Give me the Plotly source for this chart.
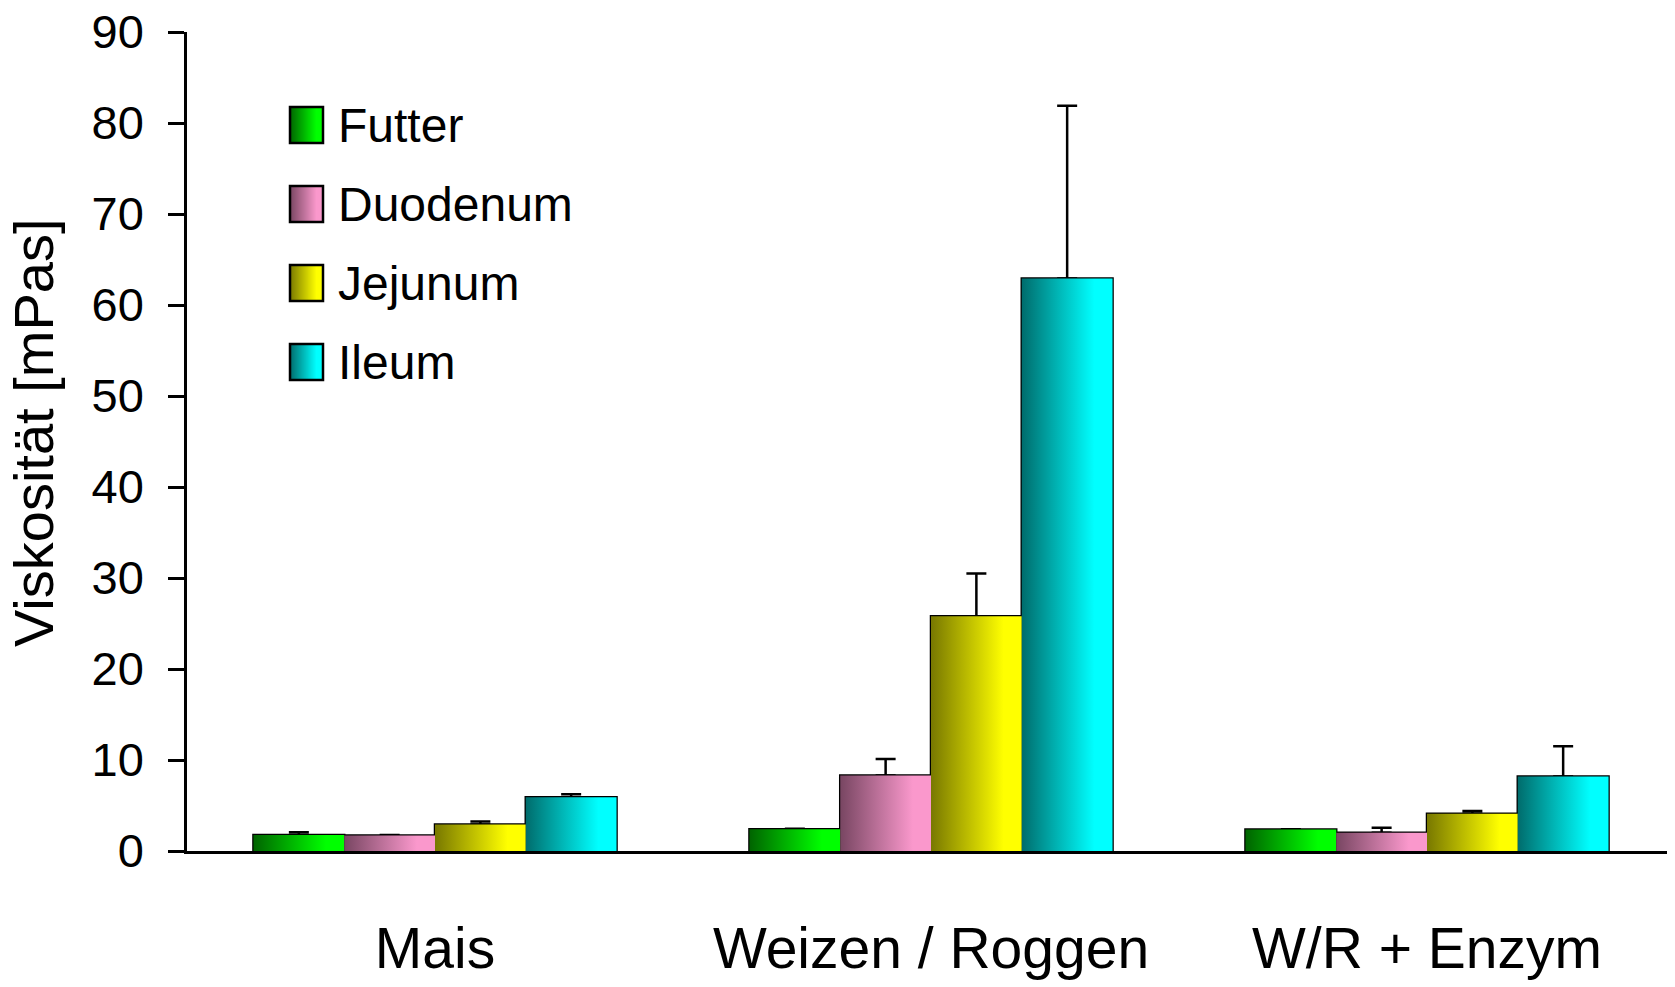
import plotly.graph_objects as go

# Daten (Viskosität in mPas)
categories = ["Mais", "Weizen / Roggen", "W/R + Enzym"]
series_names = ["Futter", "Duodenum", "Jejunum", "Ileum"]

futter = [1.75, 2.4, 2.35]
duodenum = [1.7, 8.3, 2.0]
jejunum = [2.9, 25.8, 4.1]
ileum = [5.9, 62.9, 8.2]

futter_err = [0.3, 0.05, 0.05]
duodenum_err = [0.05, 1.8, 0.55]
jejunum_err = [0.35, 4.7, 0.3]
ileum_err = [0.35, 19.0, 3.3]

values = [futter, duodenum, jejunum, ileum]
errors = [futter_err, duodenum_err, jejunum_err, ileum_err]

# Farbverlauf: links dunkel -> rechts hell
dark = [(0, 100, 0), (120, 70, 98), (120, 120, 0), (0, 108, 108)]
bright = [(0, 255, 0), (250, 152, 204), (255, 255, 0), (0, 255, 255)]

def rgb(c):
    return "rgb(%d,%d,%d)" % tuple(c)

FONT = "Liberation Sans, Arial, sans-serif"
bar_w = 0.183
x_pos = list(range(len(categories)))

fig = go.Figure()

# Verlaufsflächen der Balken
for i in range(4):
    off = -2 * bar_w + i * bar_w
    for j, x in enumerate(x_pos):
        x0, x1 = x + off, x + off + bar_w
        v = values[i][j]
        fig.add_trace(go.Scatter(
            x=[x0, x0, x1, x1, x0], y=[0, v, v, 0, 0],
            mode="lines", fill="toself",
            fillgradient=dict(type="horizontal",
                              colorscale=[[0, rgb(dark[i])], [0.8, rgb(bright[i])], [1, rgb(bright[i])]]),
            line=dict(width=0), hoverinfo="skip", showlegend=False
        ))

# Umrisse + Fehlerbalken
for i in range(4):
    fig.add_trace(go.Bar(
        x=x_pos, y=values[i], name=series_names[i],
        width=bar_w, offset=-2 * bar_w + i * bar_w,
        marker=dict(color="rgba(0,0,0,0)", line=dict(color="black", width=2.5)),
        error_y=dict(type="data", array=errors[i], arrayminus=[0] * 3, symmetric=False,
                     color="black", thickness=2.5, width=10),
        showlegend=False
    ))

# Seitenrand des Browsers (8px) ausgleichen
PAGE = 8
W, H = 1675 - PAGE, 987 - PAGE
ml, mr, mt, mb = 187 - PAGE, 0, 32 - PAGE, 136
pw, ph = W - ml - mr, H - mt - mb

def px_to_paper(px, py):
    return (px - PAGE - ml) / pw, 1 - (py - PAGE - mt) / ph

# Legende von Hand (große Symbole)
shapes = []
annotations = []
for i, name in enumerate(series_names):
    cy = 125 + i * 79
    sx0, sx1 = 290, 323
    sy0, sy1 = cy - 18, cy + 18
    n = 33
    step = (sx1 - sx0) / n
    for k in range(n):
        t = min((k + 0.5) / n / 0.8, 1)
        col = rgb(round(a + (b - a) * t) for a, b in zip(dark[i], bright[i]))
        a0, b0 = px_to_paper(sx0 + step * k, sy1)
        a1, b1 = px_to_paper(sx0 + step * (k + 1) + 0.8, sy0)
        shapes.append(dict(type="rect", xref="paper", yref="paper", x0=a0, x1=a1, y0=b0, y1=b1,
                           fillcolor=col, line=dict(width=0), layer="above"))
    a0, b0 = px_to_paper(sx0, sy1)
    a1, b1 = px_to_paper(sx1, sy0)
    shapes.append(dict(type="rect", xref="paper", yref="paper", x0=a0, x1=a1, y0=b0, y1=b1,
                       line=dict(color="black", width=2.5), layer="above"))
    tx, ty = px_to_paper(336, cy)
    annotations.append(dict(text=name, xref="paper", yref="paper", x=tx, y=ty,
                            xanchor="left", yanchor="middle", showarrow=False,
                            font=dict(size=48, color="black", family=FONT)))

# y-Achsentitel als gedrehte Beschriftung
tx, ty = px_to_paper(33, 433)
annotations.append(dict(text="Viskosität [mPas]", xref="paper", yref="paper", x=tx, y=ty,
                        xanchor="center", yanchor="middle", textangle=-90, showarrow=False,
                        font=dict(size=56, color="black", family=FONT)))

fig.update_layout(
    width=W, height=H,
    margin=dict(l=ml, r=mr, t=mt, b=mb, autoexpand=False),
    plot_bgcolor="white", paper_bgcolor="white",
    font=dict(family=FONT, color="black"),
    showlegend=False,
    shapes=shapes, annotations=annotations,
    xaxis=dict(range=[-0.5, 2.5], tickvals=x_pos, ticktext=categories,
               showline=True, linecolor="black", linewidth=2.5, ticks="",
               showgrid=False, zeroline=False, tickfont=dict(size=57),
               ticklabelstandoff=46, automargin=False, ticklabeloverflow="allow"),
    yaxis=dict(range=[0, 90], dtick=10, showline=True, linecolor="black", linewidth=2.5,
               ticks="outside", ticklen=16, tickwidth=2.5, tickcolor="black",
               showgrid=False, zeroline=False, tickfont=dict(size=47),
               ticklabelstandoff=15, automargin=False, ticklabeloverflow="allow"),
)

fig.write_html("out.html")
